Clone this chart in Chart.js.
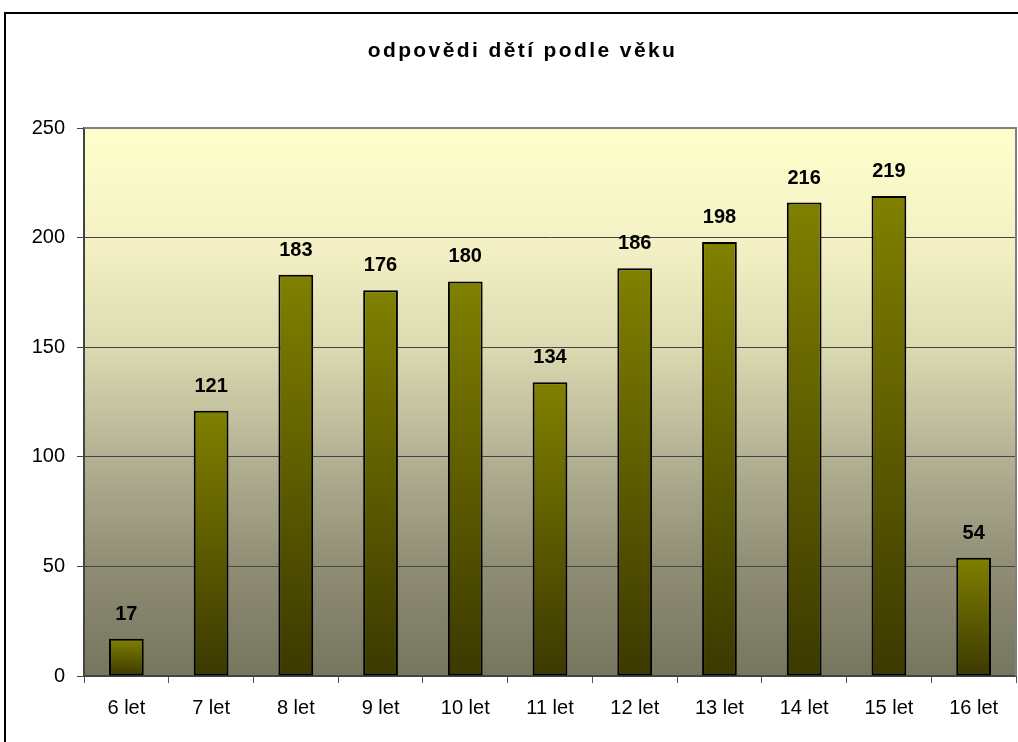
<!DOCTYPE html>
<html><head><meta charset="utf-8">
<script src="https://cdn.jsdelivr.net/npm/chart.js@4/dist/chart.umd.min.js"></script>
<style>html,body{margin:0;padding:0;background:#fff;}#wrap{width:1018px;height:742px;}</style>
</head><body><div id="wrap"><canvas id="c" width="1018" height="742"></canvas></div>
<script>
const categories = ["6 let","7 let","8 let","9 let","10 let","11 let","12 let","13 let","14 let","15 let","16 let"];
const counts = [17,121,183,176,180,134,186,198,216,219,54];
const yTicks = [0,50,100,150,200,250];
const titleText = "odpovědi dětí podle věku";

const FONT = "'Liberation Sans', Arial, sans-serif";

const framePlugin = {
  id:'frame',
  beforeDraw(chart){
    const ctx = chart.ctx, a = chart.chartArea;
    ctx.save();
    ctx.fillStyle = '#fff';
    ctx.fillRect(0,0,chart.width,chart.height);
    const g = ctx.createLinearGradient(0,a.top,0,a.bottom);
    g.addColorStop(0,'#FFFFCC');
    g.addColorStop(0.2,'#F4F2C5');
    g.addColorStop(0.4,'#DCDAB1');
    g.addColorStop(0.6,'#B3B193');
    g.addColorStop(0.8,'#8F8D74');
    g.addColorStop(1,'#76755E');
    ctx.fillStyle = g;
    ctx.fillRect(a.left,a.top,a.right-a.left,a.bottom-a.top);
    ctx.restore();
  },
  afterDraw(chart){
    const ctx = chart.ctx, a = chart.chartArea;
    ctx.save();
    ctx.strokeStyle = '#808080';
    ctx.lineWidth = 2;
    ctx.beginPath();
    ctx.moveTo(a.left, a.top);
    ctx.lineTo(a.right, a.top);
    ctx.lineTo(a.right, a.bottom);
    ctx.stroke();
    ctx.strokeStyle = '#000';
    ctx.lineWidth = 2;
    ctx.strokeRect(5,13,1100,1000);
    // title
    ctx.fillStyle = '#000';
    ctx.font = "bold 21px " + FONT;
    ctx.textAlign = 'left';
    ctx.textBaseline = 'alphabetic';
    try { ctx.letterSpacing = '2.4px'; } catch(e) {}
    const w = ctx.measureText(titleText).width;
    ctx.fillText(titleText, 522.5 - w/2, 57);
    try { ctx.letterSpacing = '0px'; } catch(e) {}
    // data labels
    const meta = chart.getDatasetMeta(0);
    ctx.font = "bold 20px " + FONT;
    ctx.textAlign = 'center';
    meta.data.forEach((bar,i)=>{
      ctx.fillText(String(chart.data.datasets[0].data[i]), bar.x, bar.y - 19);
    });
    ctx.restore();
  }
};

new Chart(document.getElementById('c'), {
  type:'bar',
  data:{
    labels: categories,
    datasets:[{
      data: counts,
      backgroundColor(context){
        const chart = context.chart;
        const a = chart.chartArea;
        if(!a) return '#808000';
        const ys = chart.scales.y;
        const v = context.raw;
        const top = ys.getPixelForValue(v), base = ys.getPixelForValue(0);
        const g = chart.ctx.createLinearGradient(0, top, 0, base);
        g.addColorStop(0,'#808000');
        g.addColorStop(1,'#3B3900');
        return g;
      },
      borderColor:'#000',
      borderWidth:2,
      borderSkipped:false,
      categoryPercentage:1,
      barPercentage:0.41
    }]
  },
  plugins:[framePlugin],
  options:{
    responsive:false,
    animation:false,
    layout:{padding:{left:0,right:2,top:128,bottom:0}},
    plugins:{
      legend:{display:false},
      tooltip:{enabled:false},
      title:{display:false}
    },
    scales:{
      x:{
        grid:{display:true,drawOnChartArea:false,drawTicks:true,tickLength:7,color:'#555',offset:true},
        border:{display:true,color:'#444',width:2},
        ticks:{color:'#000',font:{family:FONT,size:20},padding:13,maxRotation:0,autoSkip:false},
        afterFit(axis){axis.height = 66;}
      },
      y:{
        min:0,max:250,
        afterBuildTicks(axis){axis.ticks = yTicks.map(v=>({value:v}));},
        grid:{color:'#444',lineWidth:1,drawTicks:true,tickLength:7},
        border:{display:true,color:'#444',width:2},
        ticks:{color:'#000',font:{family:FONT,size:20},padding:12},
        afterFit(axis){axis.width = 84;}
      }
    }
  }
});
</script></body></html>
